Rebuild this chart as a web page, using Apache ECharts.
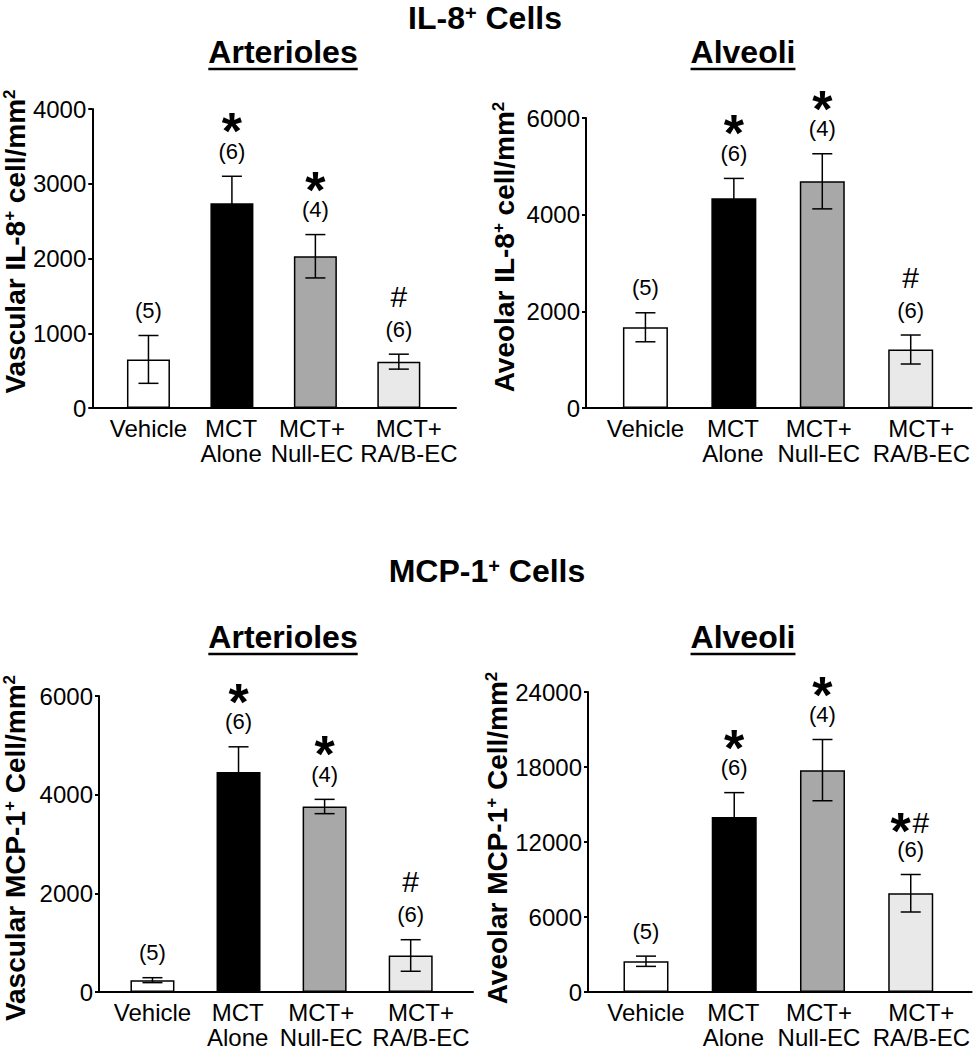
<!DOCTYPE html>
<html>
<head>
<meta charset="utf-8">
<script src="https://cdn.jsdelivr.net/npm/echarts@6/dist/echarts.min.js"></script>
<style>
html,body{margin:0;padding:0;background:#fff;}
#chart{width:973px;height:1050px;}
</style>
</head>
<body>
<div id="chart"></div>
<script>
// ---------- data ----------
const categories = ['Vehicle', 'MCT\nAlone', 'MCT+\nNull-EC', 'MCT+\nRA/B-EC'];
const groupSizes = ['(5)', '(6)', '(4)', '(6)'];
const barColors = ['#ffffff', '#000000', '#a8a8a8', '#e9e9e9'];

const il8VascularMean = [650, 2740, 2030, 620];
const il8VascularSem = [320, 360, 290, 100];
const il8VascularSig = ['', '*', '*', '#'];
const il8VascularTicks = [0, 1000, 2000, 3000, 4000];

const il8AlveolarMean = [1670, 4340, 4690, 1210];
const il8AlveolarSem = [300, 410, 570, 300];
const il8AlveolarSig = ['', '*', '*', '#'];
const il8AlveolarTicks = [0, 2000, 4000, 6000];

const mcpVascularMean = [240, 4460, 3760, 740];
const mcpVascularSem = [50, 510, 145, 320];
const mcpVascularSig = ['', '*', '*', '#'];
const mcpVascularTicks = [0, 2000, 4000, 6000];

const mcpAlveolarMean = [2460, 14000, 17750, 7900];
const mcpAlveolarSem = [410, 1950, 2450, 1500];
const mcpAlveolarSig = ['', '*', '*', '*#'];
const mcpAlveolarTicks = [0, 6000, 12000, 18000, 24000];

const sectionTitles = ['IL-8{s|+} Cells', 'MCP-1{s|+} Cells'];
const panelTitles = ['Arterioles', 'Alveoli', 'Arterioles', 'Alveoli'];
const yNames = [
  'Vascular IL-8{s|+} cell/mm{s|2}',
  'Aveolar IL-8{s|+} cell/mm{s|2}',
  'Vascular MCP-1{s|+} Cell/mm{s|2}',
  'Aveolar MCP-1{s|+} Cell/mm{s|2}'
];

// ---------- layout / style ----------
const FONT = "'Liberation Sans', Arial, Helvetica, sans-serif";
const layouts = [
  {grid:{left:87, top:109, width:369, height:299}, xMin:-0.673, xMax:3.685, barWidth:43, nameGap:63, shift:17},
  {grid:{left:586, top:118, width:386, height:290}, xMin:-0.672, xMax:3.689, barWidth:45, nameGap:68, shift:16},
  {grid:{left:95, top:696, width:378, height:299}, xMin:-0.621, xMax:3.724, barWidth:44, nameGap:70, shift:-4},
  {grid:{left:588, top:692, width:384, height:300}, xMin:-0.657, xMax:3.69, barWidth:45, nameGap:66, shift:4}
];
const sectionPos = [{x:485, y:18}, {x:487, y:571}];
const panelTitlePos = [{x:283, y:52}, {x:743, y:52}, {x:283, y:637}, {x:743, y:637}];
// where the category labels sit along the x axis (category units; labels are spread a little more evenly than the bars)
const labelSpots = [0, 0.99, 1.96, 3.12];

const panels = [
  {mean:il8VascularMean, sem:il8VascularSem, sig:il8VascularSig, ticks:il8VascularTicks},
  {mean:il8AlveolarMean, sem:il8AlveolarSem, sig:il8AlveolarSig, ticks:il8AlveolarTicks},
  {mean:mcpVascularMean, sem:mcpVascularSem, sig:mcpVascularSig, ticks:mcpVascularTicks},
  {mean:mcpAlveolarMean, sem:mcpAlveolarSem, sig:mcpAlveolarSig, ticks:mcpAlveolarTicks}
];

function makeRender(p) {
  return function (params, api) {
    const i = api.value(0), m = api.value(1), e = api.value(2);
    const top = api.coord([i, m + e]);
    const bot = api.coord([i, m - e]);
    const cx = top[0];
    const nY = top[1] - 25;
    const lw = 1.5, cap = 10;
    const children = [
      {type:'line', shape:{x1:cx, y1:top[1], x2:cx, y2:bot[1]}, style:{stroke:'#000', lineWidth:lw}},
      {type:'line', shape:{x1:cx-cap, y1:top[1], x2:cx+cap, y2:top[1]}, style:{stroke:'#000', lineWidth:lw}},
      {type:'line', shape:{x1:cx-cap, y1:bot[1], x2:cx+cap, y2:bot[1]}, style:{stroke:'#000', lineWidth:lw}},
      {type:'text', x:cx, y:nY, style:{text:groupSizes[params.dataIndex], fill:'#000', fontSize:22, fontFamily:FONT, align:'center', verticalAlign:'middle'}}
    ];
    const sig = p.sig[params.dataIndex];
    const chars = sig.split('');
    const pair = chars.length > 1;
    chars.forEach((ch, k) => {
      const dx = pair ? (k === 0 ? -10 : 10) : 0;
      if (ch === '*') {
        children.push({type:'text', x:cx+dx, y:nY-(pair ? 19 : 20), style:{text:'*', fill:'#000', fontSize:52, fontWeight:'bold', fontFamily:FONT, align:'center', verticalAlign:'middle', lineHeight:30}});
      } else {
        children.push({type:'text', x:cx+dx, y:nY-(pair ? 27 : 33), style:{text:'#', fill:'#000', fontSize:30, fontFamily:FONT, align:'center', verticalAlign:'middle'}});
      }
    });
    return {type:'group', children};
  };
}

const option = {
  backgroundColor:'#fff',
  animation:false,
  grid:[], xAxis:[], yAxis:[], series:[], graphic:[]
};

panels.forEach((p, k) => {
  const L = layouts[k];
  option.grid.push(Object.assign({}, L.grid));
  option.xAxis.push({
    type:'value', gridIndex:k, min:L.xMin, max:L.xMax,
    axisLine:{show:true, onZero:false, lineStyle:{color:'#000', width:2}},
    axisTick:{show:false}, splitLine:{show:false},
    axisLabel:{customValues:labelSpots, showMinLabel:true, showMaxLabel:true, hideOverlap:false,
      formatter:(v) => categories[Math.round(v)],
      color:'#000', fontSize:24, lineHeight:25, margin:8, fontFamily:FONT}
  });
  const pad = L.shift >= 0 ? [0,0,0,2*L.shift] : [0,-2*L.shift,0,0];
  option.yAxis.push({
    type:'value', gridIndex:k, min:p.ticks[0], max:p.ticks[p.ticks.length-1], interval:p.ticks[1]-p.ticks[0],
    axisLine:{show:true, onZero:false, lineStyle:{color:'#000', width:2}},
    axisTick:{show:true, length:4, lineStyle:{color:'#000', width:2}},
    splitLine:{show:false},
    axisLabel:{color:'#000', fontSize:24, margin:6, fontFamily:FONT, formatter:(v) => String(v)},
    name:yNames[k], nameLocation:'middle', nameRotate:90, nameGap:L.nameGap,
    nameTextStyle:{color:'#000', fontSize:28, fontWeight:'bold', fontFamily:FONT, lineHeight:28, padding:pad,
      rich:{s:{fontSize:17, fontWeight:'bold', fontFamily:FONT, color:'#000', verticalAlign:'top', lineHeight:17}}}
  });
  option.series.push({
    type:'bar', xAxisIndex:k, yAxisIndex:k, barWidth:L.barWidth, z:2,
    itemStyle:{borderColor:'#000', borderWidth:1.5},
    data:p.mean.map((v, i) => ({value:[i, v], itemStyle:{color:barColors[i]}}))
  });
  option.series.push({
    type:'custom', xAxisIndex:k, yAxisIndex:k, z:3, clip:false,
    renderItem:makeRender(p),
    data:p.mean.map((v, i) => [i, v, p.sem[i]])
  });
});

// titles
const measureCtx = document.createElement('canvas').getContext('2d');
sectionTitles.forEach((t, k) => {
  option.graphic.push({type:'text', x:sectionPos[k].x, y:sectionPos[k].y, style:{
    text:t, fill:'#000', fontSize:32, fontWeight:'bold', fontFamily:FONT, align:'center', verticalAlign:'middle', lineHeight:30,
    rich:{s:{fontSize:20, fontWeight:'bold', fontFamily:FONT, fill:'#000', verticalAlign:'top', lineHeight:20}}
  }});
});
panelTitles.forEach((t, k) => {
  const pos = panelTitlePos[k];
  measureCtx.font = "bold 32px " + FONT;
  const w = measureCtx.measureText(t).width;
  option.graphic.push({type:'text', x:pos.x, y:pos.y, style:{text:t, fill:'#000', fontSize:32, fontWeight:'bold', fontFamily:FONT, align:'center', verticalAlign:'middle'}});
  option.graphic.push({type:'line', shape:{x1:pos.x - w/2, y1:pos.y + 17, x2:pos.x + w/2, y2:pos.y + 17}, style:{stroke:'#000', lineWidth:2.5}});
});

const chart = echarts.init(document.getElementById('chart'), null, {renderer:'svg'});
chart.setOption(option);
</script>
</body>
</html>
